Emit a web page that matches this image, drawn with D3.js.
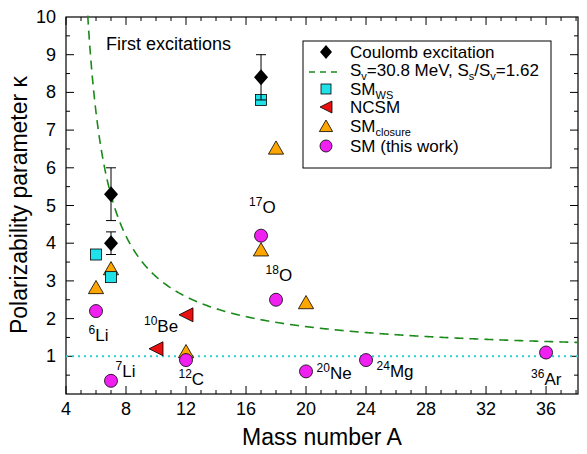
<!DOCTYPE html>
<html><head><meta charset="utf-8">
<script src="https://cdn.jsdelivr.net/npm/d3@7"></script>
<style>body{margin:0;background:#fff}text{font-family:"Liberation Sans",Arial,sans-serif}</style>
</head><body><svg id="c" width="587" height="454"></svg>
<script>
var coulomb = [[7,5.3,4.6,6.0],[7,4.0,3.7,4.3],[17,8.4,7.8,9.0]];
var smWS = [[6,3.7],[7,3.1],[17,7.8]];
var ncsm = [[10,1.2],[12,2.1]];
var smClosure = [[6,2.8],[7,3.3],[12,1.1],[17,3.8],[18,6.5],[20,2.4]];
var smThis = [[6,2.2],[7,0.35],[12,0.9],[17,4.2],[18,2.5],[20,0.6],[24,0.9],[36,1.1]];
var nuclei = [["6","Li",5.5,1.4],["7","Li",7.3,0.45],["10","Be",9.2,1.65],["12","C",11.5,0.25],
              ["17","O",16.2,4.8],["18","O",17.3,3.0],["20","Ne",20.7,0.4],["24","Mg",24.7,0.45],["36","Ar",35.0,0.25]];
var xTicks = [4,8,12,16,20,24,28,32,36];
var yTicks = [1,2,3,4,5,6,7,8,9,10];

var svg = d3.select('#c');
var x = d3.scaleLinear().domain([4,38.13]).range([66,578]);
var y = d3.scaleLinear().domain([0,10]).range([394,17]);

// frame + ticks
svg.append('rect').attr('x',66).attr('y',17).attr('width',512).attr('height',377)
	.attr('fill','none').attr('stroke','#000').attr('stroke-width',1.2);
var g = svg.append('g').attr('stroke','#000').attr('stroke-width',1);
d3.range(4,39,1).forEach(function(v){
	var L = v%4==0 ? 8 : 4;
	g.append('line').attr('x1',x(v)).attr('x2',x(v)).attr('y1',394).attr('y2',394-L);
	g.append('line').attr('x1',x(v)).attr('x2',x(v)).attr('y1',17).attr('y2',17+L);
});
d3.range(0.5,10,0.5).forEach(function(v){
	var L = v%1==0 ? 8 : 4;
	g.append('line').attr('y1',y(v)).attr('y2',y(v)).attr('x1',66).attr('x2',66+L);
	g.append('line').attr('y1',y(v)).attr('y2',y(v)).attr('x1',578).attr('x2',578-L);
});
svg.selectAll('.xt').data(xTicks).enter().append('text').attr('x',d=>x(d)).attr('y',415)
	.attr('text-anchor','middle').attr('font-size',18).text(d=>d);
svg.selectAll('.yt').data(yTicks).enter().append('text').attr('x',56).attr('y',d=>y(d)+6)
	.attr('text-anchor','end').attr('font-size',18).text(d=>d);
svg.append('text').attr('x',322).attr('y',445).attr('text-anchor','middle').attr('font-size',23).text('Mass number A');
svg.append('text').attr('transform','translate(27,205) rotate(-90)').attr('text-anchor','middle')
	.attr('font-size',23).text('Polarizability parameter κ');

// reference line and model curve
svg.append('line').attr('x1',66).attr('x2',578).attr('y1',y(1)).attr('y2',y(1))
	.attr('stroke','#2bd1d1').attr('stroke-width',2).attr('stroke-dasharray','2,4');
var curveA = d3.range(5.4,38.14,0.05);
var line = d3.line().x(d=>x(d)).y(d=>y(1+12.56/(d-4.06)));
svg.append('path').datum(curveA.filter(a=>1+12.56/(a-4.06)<=10.3)).attr('d',line)
	.attr('fill','none').attr('stroke','#1a8a1a').attr('stroke-width',1.6).attr('stroke-dasharray','9,6');

// markers
var dot = svg.append('g');
function tri(s){return 'M0,'+(-s)+'L'+(s*0.95)+','+(s*0.65)+'L'+(-s*0.95)+','+(s*0.65)+'Z';}
smClosure.forEach(d=>dot.append('path').attr('d',tri(8)).attr('transform','translate('+x(d[0])+','+y(d[1])+')')
	.attr('fill','#ffa500').attr('stroke','#000').attr('stroke-width',0.8));
ncsm.forEach(d=>dot.append('path').attr('d','M-7,0L7,-7L7,7Z').attr('transform','translate('+x(d[0])+','+y(d[1])+')')
	.attr('fill','#e81010').attr('stroke','#000').attr('stroke-width',0.8));
smWS.forEach(d=>dot.append('rect').attr('x',x(d[0])-5.5).attr('y',y(d[1])-5.5).attr('width',11).attr('height',11)
	.attr('fill','#20e0e8').attr('stroke','#000').attr('stroke-width',0.8));
smThis.forEach(d=>dot.append('circle').attr('cx',x(d[0])).attr('cy',y(d[1])).attr('r',6.5)
	.attr('fill','#f020f0').attr('stroke','#000').attr('stroke-width',0.8));
coulomb.forEach(function(d){
	var cx=x(d[0]);
	dot.append('line').attr('x1',cx).attr('x2',cx).attr('y1',y(d[2])).attr('y2',y(d[3])).attr('stroke','#000');
	[d[2],d[3]].forEach(v=>dot.append('line').attr('x1',cx-5).attr('x2',cx+5).attr('y1',y(v)).attr('y2',y(v)).attr('stroke','#000'));
	dot.append('path').attr('d','M0,-8L7,0L0,8L-7,0Z').attr('transform','translate('+cx+','+y(d[1])+')').attr('fill','#000');
});

// nucleus labels
nuclei.forEach(function(n){
	var t = svg.append('text').attr('x',x(n[2])).attr('y',y(n[3])).attr('font-size',17);
	t.append('tspan').attr('font-size',12).attr('dy',-7).text(n[0]);
	t.append('tspan').attr('dy',7).text(n[1]);
});
svg.append('text').attr('x',106).attr('y',50).attr('font-size',18).text('First excitations');

// legend
var lg = svg.append('g');
lg.append('rect').attr('x',303).attr('y',41).attr('width',248).attr('height',127).attr('fill','#fff').attr('stroke','#000');
var ly = [52,70,89,107,126,146];
lg.append('path').attr('d','M0,-7L6,0L0,7L-6,0Z').attr('transform','translate(326,'+ly[0]+')');
lg.append('line').attr('x1',309).attr('x2',342).attr('y1',ly[1]+2).attr('y2',ly[1]+2).attr('stroke','#1a8a1a').attr('stroke-width',1.5).attr('stroke-dasharray','6,5');
lg.append('rect').attr('x',321).attr('y',ly[2]-5).attr('width',10).attr('height',10).attr('fill','#20e0e8').attr('stroke','#000').attr('stroke-width',0.8);
lg.append('path').attr('d','M-6,0L6,-6L6,6Z').attr('transform','translate(326,'+ly[3]+')').attr('fill','#e81010').attr('stroke','#000').attr('stroke-width',0.8);
lg.append('path').attr('d',tri(7)).attr('transform','translate(326,'+(ly[4]+1)+')').attr('fill','#ffa500').attr('stroke','#000').attr('stroke-width',0.8);
lg.append('circle').attr('cx',326).attr('cy',ly[5]).attr('r',6).attr('fill','#f020f0').attr('stroke','#000').attr('stroke-width',0.8);
function lt(i){return lg.append('text').attr('x',350).attr('y',ly[i]+6).attr('font-size',17);}
lt(0).text('Coulomb excitation');
var t1=lt(1); t1.append('tspan').text('S');t1.append('tspan').attr('font-size',11).attr('dy',4).text('v');
t1.append('tspan').attr('dy',-4).text('=30.8 MeV, S');t1.append('tspan').attr('font-size',11).attr('dy',4).text('s');
t1.append('tspan').attr('dy',-4).text('/S');t1.append('tspan').attr('font-size',11).attr('dy',4).text('v');
t1.append('tspan').attr('dy',-4).text('=1.62');
var t2=lt(2); t2.append('tspan').text('SM');t2.append('tspan').attr('font-size',11).attr('dy',4).text('WS');
lt(3).text('NCSM');
var t4=lt(4); t4.append('tspan').text('SM');t4.append('tspan').attr('font-size',11).attr('dy',4).text('closure');
lt(5).text('SM (this work)');
</script></body></html>
